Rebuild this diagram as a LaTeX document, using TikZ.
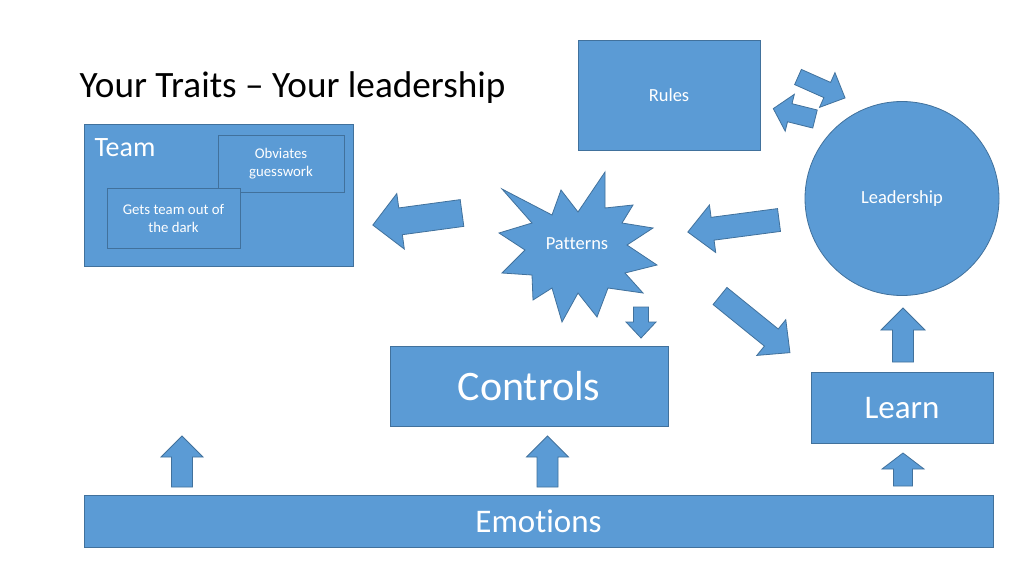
\documentclass[tikz,border=0pt]{standalone}
\usepackage{fontspec}
\setmainfont{Carlito}[Ligatures=NoCommon]
\usepackage{tikz}
\definecolor{box_blue}{RGB}{91,155,213}
\definecolor{edge_blue}{RGB}{65,113,156}

% block arrow: tail, angle, length, shaft half width, head half width, head length
\newcommand{\blockarrow}[6]{%
  \begin{scope}[shift={#1},rotate=#2]
    \draw[blueshape] (0,-#4) -- ({#3-#6},-#4) -- ({#3-#6},-#5) -- (#3,0)
      -- ({#3-#6},#5) -- ({#3-#6},#4) -- (0,#4) -- cycle;
  \end{scope}}

\begin{document}
\begin{tikzpicture}[x=1pt,y=-1pt]
    \tikzstyle{blueshape}=[fill=box_blue, draw=edge_blue, line width=0.8pt]
    \tikzstyle{box}=[style=blueshape, rectangle, inner sep=0pt, text=white]
    \tikzstyle{small}=[text=white, font=\fontsize{14.8}{18}\selectfont, align=center]
    \tikzstyle{mid}=[text=white, font=\fontsize{18.5}{22}\selectfont]
    \tikzstyle{big}=[font=\fontsize{33}{40}\selectfont]

    \useasboundingbox[fill=white] (0,0) rectangle (1024,576);

    \node[anchor=base west, font=\fontsize{37.2}{44}\selectfont] (title) at (76,97) {Your Traits -- Your leadership};

    % team side
    \node[box, minimum width=269, minimum height=142] (team) at (218.5,195) {};
    \node[anchor=base west, text=white, font=\fontsize{28}{34}\selectfont] (teaml) at (91,156) {Team};
    \node[box, minimum width=126, minimum height=57] (obv) at (281,163.5) {};
    \node[small] (obvl) at (obv) {Obviates\\guesswork};
    \node[box, minimum width=133, minimum height=60] (dark) at (173.5,218) {};
    \node[small] (darkl) at (dark) {Gets team out of\\the dark};

    \node[box, minimum width=182, minimum height=110, mid] (rules) at (669,95) {Rules};
    \node[style=blueshape, circle, minimum size=194, inner sep=0pt, mid] (lead) at (902,198.5) {Leadership};

    % patterns star
    \draw[blueshape] (502,189) -- (552,215) -- (561,190) -- (578,212) -- (605,172) -- (605,208)
      -- (633,205) -- (622,223) -- (653,228) -- (627,245) -- (657,265) -- (625,273)
      -- (643,293) -- (608,288) -- (597,317) -- (578,293) -- (562,322) -- (552,288)
      -- (533,300) -- (532,275) -- (502,273) -- (525,250) -- (499,233) -- (532,223) -- cycle;
    \node[mid] (pat) at (577,244) {Patterns};

    \node[box, minimum width=278, minimum height=80, font=\fontsize{42}{50}\selectfont] (ctrl) at (529,386) {Controls};
    \node[box, minimum width=182, minimum height=71, big] (learn) at (902,408) {Learn};
    \node[box, minimum width=909, minimum height=52, big] (emo) at (538.5,521) {Emotions};

    % arrows
    \blockarrow{(462,213)}{187.7}{90}{13.5}{28}{28}
    \blockarrow{(779,220)}{187.5}{92}{11.5}{24}{25}
    \blockarrow{(720,296)}{-39}{90}{11}{23}{24}
    \blockarrow{(798,77)}{-24}{51.5}{8.3}{19}{19.5}
    \blockarrow{(815,119)}{166}{43}{9.3}{19}{17}
    \blockarrow{(641,307)}{-90}{31}{7.5}{15}{16}
    \blockarrow{(903,362)}{90}{54}{10.5}{22}{22}
    \blockarrow{(903,486)}{90}{33}{9.5}{21}{16}
    \blockarrow{(182,487)}{90}{51}{10.5}{21}{21}
    \blockarrow{(547.5,487)}{90}{51}{10.5}{21}{21}
\end{tikzpicture}
\end{document}
